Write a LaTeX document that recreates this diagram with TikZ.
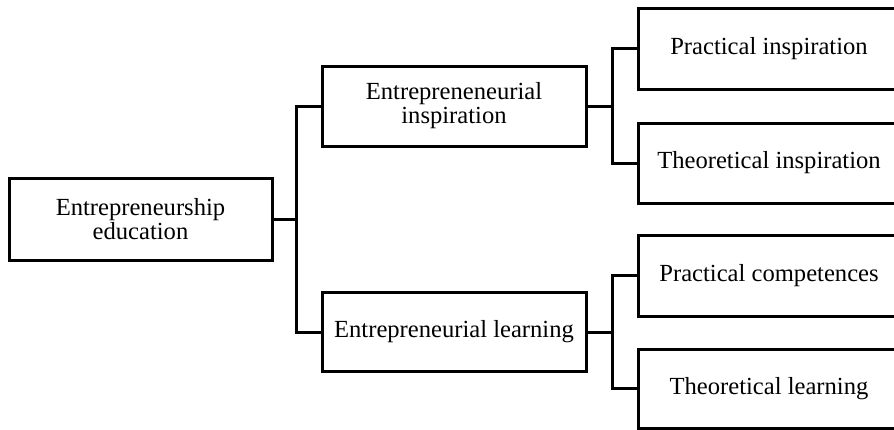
\documentclass[tikz,border=0pt]{standalone}
\usepackage{fontspec}
\setmainfont{Liberation Serif}
\begin{document}
\begin{tikzpicture}[x=1pt,y=-1pt,
  box/.style={draw=black,line width=3pt,fill=white,inner sep=0pt,align=center,
    font=\fontsize{24.6}{24}\selectfont},
  link/.style={draw=black,line width=3pt}]
\useasboundingbox (0,0) rectangle (894,429);
\clip (0,0) rectangle (894,429);
\fill[white] (0,0) rectangle (894,429);
% nodes
\node[box,minimum width=263pt,minimum height=82pt] (root) at (140.5,219) {Entrepreneurship\\education};
\node[box,minimum width=264pt,minimum height=80pt] (m1) at (454,106) {Entrepreneneurial\\inspiration};
\node[box,minimum width=264pt,minimum height=79pt] (m2) at (454,332) {Entrepreneurial learning};
\node[box,minimum width=262pt,minimum height=81pt] (l1) at (769,48.5) {Practical inspiration};
\node[box,minimum width=262pt,minimum height=80pt] (l2) at (769,163) {Theoretical inspiration};
\node[box,minimum width=262pt,minimum height=81pt] (l3) at (769,275.5) {Practical competences};
\node[box,minimum width=262pt,minimum height=79pt] (l4) at (769,388.5) {Theoretical learning};
% junctions
\coordinate (j0) at (296,219);
\coordinate (j1) at (612,106);
\coordinate (j2) at (612,332);
% connectors
\draw[link] (root.east) -- (j0);
\draw[link,line join=miter] (m1.west) -- (j0 |- m1.west) -- (j0 |- m2.west) -- (m2.west);
\draw[link] (m1.east) -- (j1);
\draw[link,line join=miter] (l1.west) -- (j1 |- l1.west) -- (j1 |- l2.west) -- (l2.west);
\draw[link] (m2.east) -- (j2);
\draw[link,line join=miter] (l3.west) -- (j2 |- l3.west) -- (j2 |- l4.west) -- (l4.west);
\end{tikzpicture}
\end{document}
